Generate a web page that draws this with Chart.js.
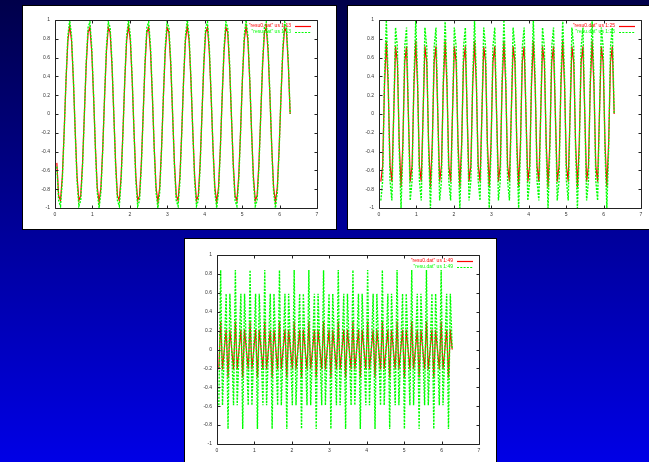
<!DOCTYPE html>
<html>
<head>
<meta charset="utf-8">
<script src="https://cdn.jsdelivr.net/npm/chart.js@4/dist/chart.umd.min.js"></script>
<style>
html,body{margin:0;padding:0;}
body{width:649px;height:462px;overflow:hidden;position:relative;background:linear-gradient(to bottom,#00004a 0%,#00009a 50%,#0000e6 100%);}
.panel{position:absolute;background:#fff;border:1px solid #000;box-sizing:border-box;overflow:hidden;}
.panel canvas{display:block;}
</style>
</head>
<body>
<div class="panel" style="left:22px;top:5px;width:315px;height:225px;"><canvas id="c1" width="313" height="223"></canvas></div>
<div class="panel" style="left:347px;top:5px;width:315px;height:225px;"><canvas id="c2" width="313" height="223"></canvas></div>
<div class="panel" style="left:184px;top:238px;width:313px;height:240px;"><canvas id="c3" width="311" height="223"></canvas></div>
<script>
// ---- data ----
const xValues = [
0.049,0.098,0.147,0.196,0.245,0.295,0.344,0.393,0.442,0.491,0.540,0.589,0.638,0.687,0.736,0.785,0.834,0.884,0.933,0.982,1.031,1.080,1.129,1.178,1.227,1.276,1.325,1.374,1.424,1.473,1.522,1.571,
1.620,1.669,1.718,1.767,1.816,1.865,1.914,1.963,2.013,2.062,2.111,2.160,2.209,2.258,2.307,2.356,2.405,2.454,2.503,2.553,2.602,2.651,2.700,2.749,2.798,2.847,2.896,2.945,2.994,3.043,3.093,3.142,
3.191,3.240,3.289,3.338,3.387,3.436,3.485,3.534,3.583,3.632,3.682,3.731,3.780,3.829,3.878,3.927,3.976,4.025,4.074,4.123,4.172,4.222,4.271,4.320,4.369,4.418,4.467,4.516,4.565,4.614,4.663,4.712,
4.762,4.811,4.860,4.909,4.958,5.007,5.056,5.105,5.154,5.203,5.252,5.301,5.351,5.400,5.449,5.498,5.547,5.596,5.645,5.694,5.743,5.792,5.841,5.890,5.940,5.989,6.038,6.087,6.136,6.185,6.234,6.283
];
const resu0_13 = [
-0.52,-0.87,-0.92,-0.66,-0.18,0.36,0.78,0.94,0.78,0.36,-0.18,-0.66,-0.92,-0.87,-0.52,0,0.52,0.87,0.92,0.66,0.18,-0.36,-0.78,-0.94,-0.78,-0.36,0.18,0.66,0.92,0.87,0.52,0,
-0.52,-0.87,-0.92,-0.66,-0.18,0.36,0.78,0.94,0.78,0.36,-0.18,-0.66,-0.92,-0.87,-0.52,0,0.52,0.87,0.92,0.66,0.18,-0.36,-0.78,-0.94,-0.78,-0.36,0.18,0.66,0.92,0.87,0.52,0,
-0.52,-0.87,-0.92,-0.66,-0.18,0.36,0.78,0.94,0.78,0.36,-0.18,-0.66,-0.92,-0.87,-0.52,0,0.52,0.87,0.92,0.66,0.18,-0.36,-0.78,-0.94,-0.78,-0.36,0.18,0.66,0.92,0.87,0.52,0,
-0.52,-0.87,-0.92,-0.66,-0.18,0.36,0.78,0.94,0.78,0.36,-0.18,-0.66,-0.92,-0.87,-0.52,0,0.52,0.87,0.92,0.66,0.18,-0.36,-0.78,-0.94,-0.78,-0.36,0.18,0.66,0.92,0.87,0.52,0
];
const resu_13 = [
-0.56,-0.92,-0.98,-0.71,-0.2,0.38,0.83,1,0.83,0.38,-0.2,-0.71,-0.98,-0.92,-0.56,0,0.56,0.92,0.98,0.71,0.2,-0.38,-0.83,-1,-0.83,-0.38,0.2,0.71,0.98,0.92,0.56,0,
-0.56,-0.92,-0.98,-0.71,-0.2,0.38,0.83,1,0.83,0.38,-0.2,-0.71,-0.98,-0.92,-0.56,0,0.56,0.92,0.98,0.71,0.2,-0.38,-0.83,-1,-0.83,-0.38,0.2,0.71,0.98,0.92,0.56,0,
-0.56,-0.92,-0.98,-0.71,-0.2,0.38,0.83,1,0.83,0.38,-0.2,-0.71,-0.98,-0.92,-0.56,0,0.56,0.92,0.98,0.71,0.2,-0.38,-0.83,-1,-0.83,-0.38,0.2,0.71,0.98,0.92,0.56,0,
-0.56,-0.92,-0.98,-0.71,-0.2,0.38,0.83,1,0.83,0.38,-0.2,-0.71,-0.98,-0.92,-0.56,0,0.56,0.92,0.98,0.71,0.2,-0.38,-0.83,-1,-0.83,-0.38,0.2,0.71,0.98,0.92,0.56,0
];
const resu0_25 = [
-0.72,-0.55,0.3,0.78,0.3,-0.55,-0.72,0,0.72,0.55,-0.3,-0.78,-0.3,0.55,0.72,0,-0.72,-0.55,0.3,0.78,0.3,-0.55,-0.72,0,0.72,0.55,-0.3,-0.78,-0.3,0.55,0.72,0,
-0.72,-0.55,0.3,0.78,0.3,-0.55,-0.72,0,0.72,0.55,-0.3,-0.78,-0.3,0.55,0.72,0,-0.72,-0.55,0.3,0.78,0.3,-0.55,-0.72,0,0.72,0.55,-0.3,-0.78,-0.3,0.55,0.72,0,
-0.72,-0.55,0.3,0.78,0.3,-0.55,-0.72,0,0.72,0.55,-0.3,-0.78,-0.3,0.55,0.72,0,-0.72,-0.55,0.3,0.78,0.3,-0.55,-0.72,0,0.72,0.55,-0.3,-0.78,-0.3,0.55,0.72,0,
-0.72,-0.55,0.3,0.78,0.3,-0.55,-0.72,0,0.72,0.55,-0.3,-0.78,-0.3,0.55,0.72,0,-0.72,-0.55,0.3,0.78,0.3,-0.55,-0.72,0,0.72,0.55,-0.3,-0.78,-0.3,0.55,0.72,0
];
const resu_25 = [
-0.92,-0.71,0.38,1,0.38,-0.71,-0.92,0,0.92,0.71,-0.38,-1,-0.38,0.71,0.92,0,-0.92,-0.71,0.38,1,0.38,-0.71,-0.92,0,0.92,0.71,-0.38,-1,-0.38,0.71,0.92,0,
-0.92,-0.71,0.38,1,0.38,-0.71,-0.92,0,0.92,0.71,-0.38,-1,-0.38,0.71,0.92,0,-0.92,-0.71,0.38,1,0.38,-0.71,-0.92,0,0.92,0.71,-0.38,-1,-0.38,0.71,0.92,0,
-0.92,-0.71,0.38,1,0.38,-0.71,-0.92,0,0.92,0.71,-0.38,-1,-0.38,0.71,0.92,0,-0.92,-0.71,0.38,1,0.38,-0.71,-0.92,0,0.92,0.71,-0.38,-1,-0.38,0.71,0.92,0,
-0.92,-0.71,0.38,1,0.38,-0.71,-0.92,0,0.92,0.71,-0.38,-1,-0.38,0.71,0.92,0,-0.92,-0.71,0.38,1,0.38,-0.71,-0.92,0,0.92,0.71,-0.38,-1,-0.38,0.71,0.92,0
];
const resu0_49 = [
-0.21,0.3,-0.21,0,0.21,-0.3,0.21,0,-0.21,0.3,-0.21,0,0.21,-0.3,0.21,0,-0.21,0.3,-0.21,0,0.21,-0.3,0.21,0,-0.21,0.3,-0.21,0,0.21,-0.3,0.21,0,
-0.21,0.3,-0.21,0,0.21,-0.3,0.21,0,-0.21,0.3,-0.21,0,0.21,-0.3,0.21,0,-0.21,0.3,-0.21,0,0.21,-0.3,0.21,0,-0.21,0.3,-0.21,0,0.21,-0.3,0.21,0,
-0.21,0.3,-0.21,0,0.21,-0.3,0.21,0,-0.21,0.3,-0.21,0,0.21,-0.3,0.21,0,-0.21,0.3,-0.21,0,0.21,-0.3,0.21,0,-0.21,0.3,-0.21,0,0.21,-0.3,0.21,0,
-0.21,0.3,-0.21,0,0.21,-0.3,0.21,0,-0.21,0.3,-0.21,0,0.21,-0.3,0.21,0,-0.21,0.3,-0.21,0,0.21,-0.3,0.21,0,-0.21,0.3,-0.21,0,0.21,-0.3,0.21,0
];
const resu_49 = [
-0.59,0.84,-0.59,0,0.59,-0.84,0.59,0,-0.59,0.84,-0.59,0,0.59,-0.84,0.59,0,-0.59,0.84,-0.59,0,0.59,-0.84,0.59,0,-0.59,0.84,-0.59,0,0.59,-0.84,0.59,0,
-0.59,0.84,-0.59,0,0.59,-0.84,0.59,0,-0.59,0.84,-0.59,0,0.59,-0.84,0.59,0,-0.59,0.84,-0.59,0,0.59,-0.84,0.59,0,-0.59,0.84,-0.59,0,0.59,-0.84,0.59,0,
-0.59,0.84,-0.59,0,0.59,-0.84,0.59,0,-0.59,0.84,-0.59,0,0.59,-0.84,0.59,0,-0.59,0.84,-0.59,0,0.59,-0.84,0.59,0,-0.59,0.84,-0.59,0,0.59,-0.84,0.59,0,
-0.59,0.84,-0.59,0,0.59,-0.84,0.59,0,-0.59,0.84,-0.59,0,0.59,-0.84,0.59,0,-0.59,0.84,-0.59,0,0.59,-0.84,0.59,0,-0.59,0.84,-0.59,0,0.59,-0.84,0.59,0
];
const xTicks = [0,1,2,3,4,5,6,7];
const xTickLabels = ['0','1','2','3','4','5','6','7'];
const yTicks = [-1,-0.8,-0.6,-0.4,-0.2,0,0.2,0.4,0.6,0.8,1];
const yTickLabels = ['-1','-0.8','-0.6','-0.4','-0.2','0','0.2','0.4','0.6','0.8','1'];
const labels13 = ['"resu0.dat" us 1:13','"resu.dat" us 1:13'];
const labels25 = ['"resu0.dat" us 1:25','"resu.dat" us 1:25'];
const labels49 = ['"resu0.dat" us 1:49','"resu.dat" us 1:49'];

// ---- drawing ----
const FONT = {family:'"Liberation Sans", Arial, sans-serif', size:5};

const gnuplotFrame = {
  id:'gnuplotFrame',
  afterDatasetsDraw(chart){
    const {ctx, chartArea:a, scales} = chart;
    const xs = scales.x, ys = scales.y;
    const L = Math.round(a.left)+0.5, R = Math.round(a.right)+0.5, T = Math.round(a.top)+0.5, B = Math.round(a.bottom)+0.5;
    ctx.save();
    ctx.strokeStyle = '#222';
    ctx.lineWidth = 1;
    ctx.beginPath();
    ctx.rect(L, T, R-L, B-T);
    xTicks.forEach(v=>{
      const p = Math.round(xs.getPixelForValue(v))+0.5;
      ctx.moveTo(p,B); ctx.lineTo(p,B-3);
      ctx.moveTo(p,T); ctx.lineTo(p,T+3);
    });
    yTicks.forEach(v=>{
      const p = Math.round(ys.getPixelForValue(v))+0.5;
      ctx.moveTo(L,p); ctx.lineTo(L+3,p);
      ctx.moveTo(R,p); ctx.lineTo(R-3,p);
    });
    ctx.stroke();
    // key (legend) in the top-right corner
    const ds = chart.data.datasets;
    const entries = [ds[1], ds[0]]; // red first, then green
    ctx.font = FONT.size+'px '+FONT.family;
    ctx.textAlign = 'right';
    ctx.textBaseline = 'middle';
    entries.forEach((d,i)=>{
      const yy = a.top + 6 + i*6;
      ctx.fillStyle = d.borderColor;
      ctx.fillText(d.label, a.right-26, yy);
      ctx.beginPath();
      ctx.strokeStyle = d.borderColor;
      ctx.lineWidth = 1.2;
      ctx.setLineDash(d.borderDash || []);
      ctx.moveTo(a.right-22, Math.round(yy)+0.5);
      ctx.lineTo(a.right-6, Math.round(yy)+0.5);
      ctx.stroke();
      ctx.setLineDash([]);
    });
    ctx.restore();
  }
};

function makeChart(id, red, green, labels, pad, xh){
  const toPts = arr => xValues.map((x,i)=>({x:x, y:arr[i]}));
  return new Chart(document.getElementById(id), {
    type:'line',
    data:{datasets:[
      {label:labels[1], data:toPts(green), borderColor:'#00ff00', borderWidth:1.4, borderDash:[2,1.3], pointRadius:0, tension:0, order:0},
      {label:labels[0], data:toPts(red), borderColor:'#ff0000', borderWidth:1.2, pointRadius:0, tension:0, order:1}
    ]},
    options:{
      responsive:false, animation:false, devicePixelRatio:1,
      layout:{padding:pad},
      plugins:{legend:{display:false}, tooltip:{enabled:false}},
      scales:{
        x:{type:'linear', min:0, max:7,
           afterBuildTicks:s=>{s.ticks = xTicks.map(v=>({value:v}));},
           afterFit:s=>{s.height = xh;},
           grid:{display:false, drawTicks:false}, border:{display:false},
           ticks:{font:FONT, color:'#333', padding:4, maxRotation:0, autoSkip:false,
                  callback:(v)=>xTickLabels[xTicks.indexOf(v)]}},
        y:{type:'linear', min:-1, max:1,
           afterBuildTicks:s=>{s.ticks = yTicks.map(v=>({value:v}));},
           afterFit:s=>{s.width = pad.yw;},
           grid:{display:false, drawTicks:false}, border:{display:false},
           ticks:{font:FONT, color:'#333', padding:5, autoSkip:false,
                  callback:(v)=>{const k=yTicks.findIndex(t=>Math.abs(t-v)<1e-9); return yTickLabels[k];}}}
      }
    },
    plugins:[gnuplotFrame]
  });
}

makeChart('c1', resu0_13, resu_13, labels13, {left:0, top:14, right:19, bottom:0, yw:32}, 21);
makeChart('c2', resu0_25, resu_25, labels25, {left:0, top:14, right:20, bottom:0, yw:31}, 21);
makeChart('c3', resu0_49, resu_49, labels49, {left:0, top:16, right:17, bottom:0, yw:32}, 18);
</script>
</body>
</html>
